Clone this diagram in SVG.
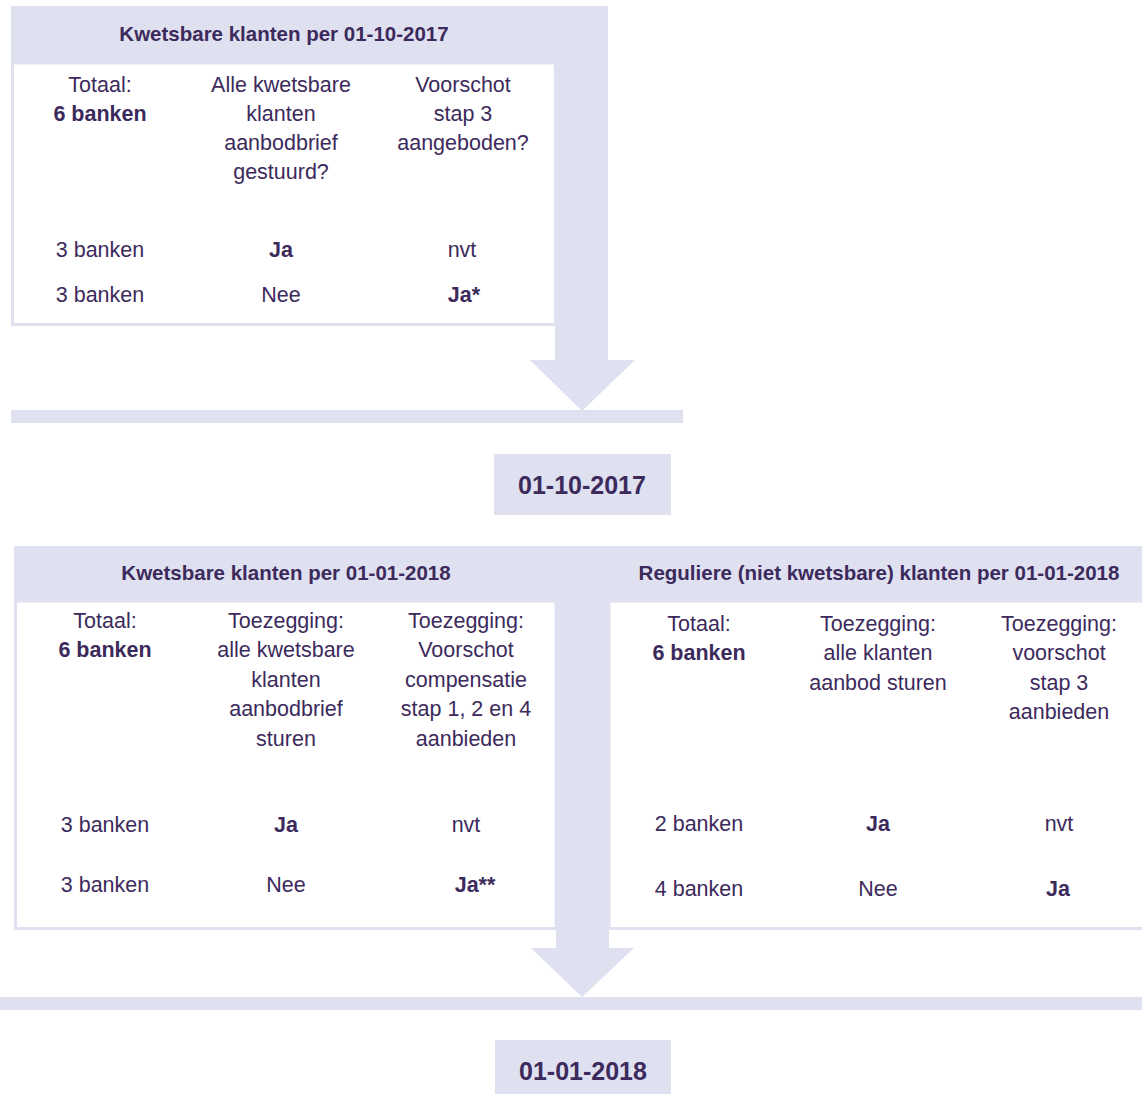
<svg xmlns="http://www.w3.org/2000/svg" width="1142" height="1094" viewBox="0 0 1142 1094">
<style>
.lav{fill:#dfe0f0}
.tbl{fill:#ffffff;stroke:#dfe0f0;stroke-width:3}
text{font-family:"Liberation Sans",Arial,sans-serif;fill:#3c2a5c;text-anchor:middle}
.t{font-size:21.5px}
.b{font-size:21.5px;font-weight:bold}
.h{font-size:20.5px;font-weight:bold}
.d{font-size:25px;font-weight:bold}
</style>
<rect width="1142" height="1094" fill="#ffffff"/>
<g id="connectors">
  <rect class="lav" x="555" y="6" width="53" height="356"/>
  <polygon class="lav" points="530,360 635,360 582,411"/>
  <rect class="lav" x="11" y="410" width="672" height="13"/>
  <rect class="lav" x="556" y="546" width="53" height="404"/>
  <polygon class="lav" points="531,948 634,948 582,997"/>
  <rect class="lav" x="0" y="997" width="1142" height="13"/>
</g>
<g id="node-kwetsbaar-2017">
  <rect class="lav" x="11" y="6" width="597" height="58"/>
  <rect class="tbl" x="12.5" y="63" width="543" height="261.5"/>
  <text class="h" x="284" y="41">Kwetsbare klanten per 01-10-2017</text>
  <text class="t" x="100" y="92">Totaal:</text>
  <text class="b" x="100" y="121">6 banken</text>
  <text class="t" x="281" y="92">Alle kwetsbare</text>
  <text class="t" x="281" y="121">klanten</text>
  <text class="t" x="281" y="150">aanbodbrief</text>
  <text class="t" x="281" y="179">gestuurd?</text>
  <text class="t" x="463" y="92">Voorschot</text>
  <text class="t" x="463" y="121">stap 3</text>
  <text class="t" x="463" y="150">aangeboden?</text>
  <text class="t" x="100" y="257">3 banken</text>
  <text class="b" x="281" y="257">Ja</text>
  <text class="t" x="462" y="257">nvt</text>
  <text class="t" x="100" y="302">3 banken</text>
  <text class="t" x="281" y="302">Nee</text>
  <text class="b" x="464" y="302">Ja*</text>
</g>
<g id="node-date-2017">
  <rect class="lav" x="494" y="454" width="177" height="61"/>
  <text class="d" x="582" y="494">01-10-2017</text>
</g>
<g id="node-kwetsbaar-2018">
  <rect class="lav" x="14" y="546" width="542" height="56"/>
  <rect class="tbl" x="15.5" y="601" width="540.5" height="327.5"/>
  <text class="h" x="286" y="580">Kwetsbare klanten per 01-01-2018</text>
  <text class="t" x="105" y="628">Totaal:</text>
  <text class="b" x="105" y="657">6 banken</text>
  <text class="t" x="286" y="628">Toezegging:</text>
  <text class="t" x="286" y="657">alle kwetsbare</text>
  <text class="t" x="286" y="687">klanten</text>
  <text class="t" x="286" y="716">aanbodbrief</text>
  <text class="t" x="286" y="746">sturen</text>
  <text class="t" x="466" y="628">Toezegging:</text>
  <text class="t" x="466" y="657">Voorschot</text>
  <text class="t" x="466" y="687">compensatie</text>
  <text class="t" x="466" y="716">stap 1, 2 en 4</text>
  <text class="t" x="466" y="746">aanbieden</text>
  <text class="t" x="105" y="832">3 banken</text>
  <text class="b" x="286" y="832">Ja</text>
  <text class="t" x="466" y="832">nvt</text>
  <text class="t" x="105" y="892">3 banken</text>
  <text class="t" x="286" y="892">Nee</text>
  <text class="b" x="475" y="892">Ja**</text>
</g>
<g id="node-regulier-2018">
  <rect class="lav" x="609" y="546" width="533" height="56"/>
  <rect class="tbl" x="609" y="601" width="535" height="327.5"/>
  <text class="h" x="879" y="580">Reguliere (niet kwetsbare) klanten per 01-01-2018</text>
  <text class="t" x="699" y="631">Totaal:</text>
  <text class="b" x="699" y="660">6 banken</text>
  <text class="t" x="878" y="631">Toezegging:</text>
  <text class="t" x="878" y="660">alle klanten</text>
  <text class="t" x="878" y="690">aanbod sturen</text>
  <text class="t" x="1059" y="631">Toezegging:</text>
  <text class="t" x="1059" y="660">voorschot</text>
  <text class="t" x="1059" y="690">stap 3</text>
  <text class="t" x="1059" y="719">aanbieden</text>
  <text class="t" x="699" y="831">2 banken</text>
  <text class="b" x="878" y="831">Ja</text>
  <text class="t" x="1059" y="831">nvt</text>
  <text class="t" x="699" y="896">4 banken</text>
  <text class="t" x="878" y="896">Nee</text>
  <text class="b" x="1058" y="896">Ja</text>
</g>
<g id="node-date-2018">
  <rect class="lav" x="495" y="1040" width="176" height="54"/>
  <text class="d" x="583" y="1080">01-01-2018</text>
</g>
</svg>
